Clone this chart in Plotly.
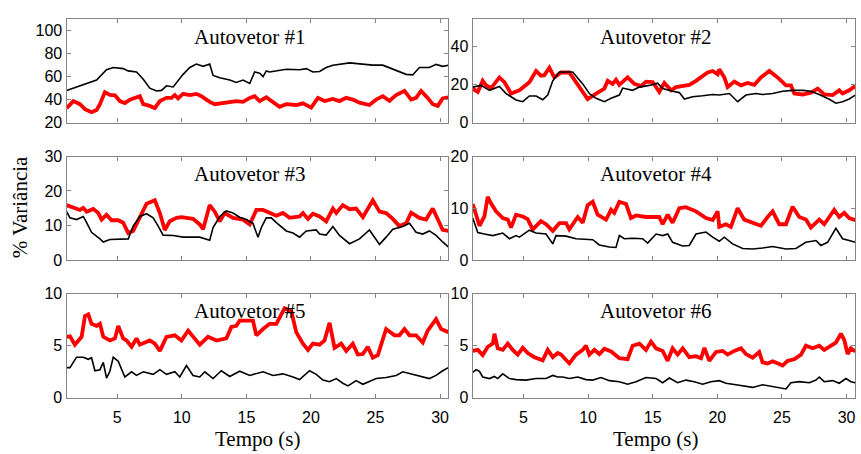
import plotly.graph_objects as go
from plotly.subplots import make_subplots

# ---------------- data ----------------
titles = ["Autovetor #1", "Autovetor #2", "Autovetor #3",
          "Autovetor #4", "Autovetor #5", "Autovetor #6"]

# Autovetor 1
t1_black = [1.08, 1.85, 2.63, 3.4, 4.17, 4.69, 5.46, 5.85, 6.49, 7.0, 7.52, 8.04, 8.43, 8.81, 9.33, 10.1,
            10.62, 11.13, 11.65, 12.16, 12.42, 12.94, 13.71, 14.22, 14.74, 15.26, 15.64, 16.03, 16.29,
            16.54, 16.8, 17.32, 18.09, 19.12, 19.64, 20.15, 20.67, 21.18, 21.7, 22.99, 23.76, 24.79,
            25.56, 26.34, 27.37, 27.88, 28.4, 29.17, 29.69, 30.2, 30.64]
v1_black = [48, 51, 54, 57, 66, 68, 67, 65, 64, 58, 50, 47.5, 48, 52, 51, 62,
            68, 71, 69, 71, 61, 59, 57, 55, 57, 54, 64, 63, 60,
            65, 64, 65, 66.5, 66, 67, 64, 64.5, 68, 70, 72, 71, 70,
            70, 66.5, 62, 61.5, 68, 68, 70.7, 69, 70]
t1_red = [1.08, 1.6, 2.11, 2.5, 3.01, 3.4, 3.66, 4.04, 4.43, 4.82, 5.2, 5.59, 5.98, 6.75, 7.01, 7.52,
          7.91, 8.3, 8.81, 9.2, 9.46, 9.71, 10.1, 10.62, 11.13, 11.52, 11.9, 12.16, 12.55, 12.94,
          13.71, 14.22, 14.74, 15.26, 15.64, 16.03, 16.54, 17.06, 17.57, 18.09, 18.86, 19.38, 20.02,
          20.54, 21.05, 21.7, 22.21, 22.73, 23.24, 23.76, 24.53, 25.05, 25.56, 26.08, 26.6, 27.24,
          27.76, 28.14, 28.53, 29.04, 29.43, 29.82, 30.2, 30.64]
v1_red = [32.5, 38.7, 36, 31.7, 29, 31, 36, 46.5, 44, 43.7, 38.7, 37, 40, 43, 36, 34.5,
          32.5, 38.7, 41.5, 41.5, 44, 41, 45, 44, 45, 43, 40, 38, 36, 36.5,
          37.3, 38.7, 38, 41.5, 43, 38.7, 42, 38, 33.7, 36, 35.3, 36.7, 33,
          41.5, 38.7, 40.6, 38.7, 41.5, 40, 37.3, 35.3, 40, 43, 39, 44, 47.6,
          40, 41.5, 47.6, 41.5, 36, 34.5, 41, 42]

# Autovetor 2
t2_black = [1.08, 1.72, 2.37, 3.14, 3.66, 4.43, 4.95, 5.46, 5.98, 6.49, 6.88, 7.27, 7.78, 8.81, 9.59,
            10.1, 10.62, 11.26, 11.78, 12.42, 12.68, 13.45, 13.97, 14.74, 15.38, 15.77, 16.54, 17.06,
            17.45, 18.09, 18.86, 19.64, 20.15, 20.93, 21.57, 22.21, 22.99, 23.5, 24.28, 25.05, 25.82,
            26.6, 27.24, 27.88, 28.66, 29.17, 29.69, 30.2, 30.67]
v2_black = [18.7, 19.6, 17, 19, 15.3, 11.9, 11, 14, 14, 12, 14.5, 22, 26.7, 26.7, 20.4,
            15.3, 12.8, 11, 12.8, 14.5, 18.2, 17, 18.7, 19.6, 20.8, 17.9, 16.5, 15.8,
            12.4, 13.6, 14.1, 14.8, 14.5, 15.3, 11, 14.5, 15.3, 14.8, 15.3, 16.5, 17,
            17, 16.5, 14.8, 12.3, 10.2, 11, 12.4, 14.5]
t2_red = [1.08, 1.47, 1.85, 2.11, 2.5, 3.14, 3.53, 4.04, 4.69, 5.46, 5.98, 6.36, 6.62, 7.01, 7.39,
          7.91, 8.55, 9.07, 9.59, 9.97, 10.62, 11.26, 11.52, 11.9, 12.16, 12.42, 13.06, 13.58, 14.1,
          14.48, 15.0, 15.51, 15.9, 16.42, 16.8, 17.32, 17.83, 18.35, 18.86, 19.25, 19.64, 20.02,
          20.15, 20.54, 20.8, 21.31, 21.83, 22.34, 22.86, 23.37, 24.02, 24.66, 25.31, 25.69, 25.95,
          26.6, 27.24, 27.76, 28.27, 28.92, 29.43, 29.69, 30.2, 30.67]
v2_red = [17.9, 16.2, 22, 19.6, 18.2, 23.8, 21.3, 15.3, 17, 21.3, 27.2, 24.7, 25, 28.9, 23.8,
          26.4, 26.4, 21.3, 16.2, 12.4, 15.3, 17.9, 22, 20.4, 22.6, 19.9, 23.8, 20.4, 19.2,
          21.6, 21.3, 16.2, 20.9, 17, 18.7, 19.2, 19.9, 22, 24.7, 26.4, 27.2, 25.5,
          28.1, 23.8, 18.7, 21.6, 19.6, 20.9, 19.9, 23.8, 27.2, 23.8, 19.6, 19.6, 15.3,
          14.8, 15.8, 17.9, 14.8, 14.5, 17, 15.3, 17, 19.2]

# Autovetor 3
t3_black = [1.08, 1.34, 1.85, 2.37, 2.63, 3.01, 3.66, 3.92, 4.43, 5.2, 5.85, 6.23, 6.75, 7.27, 7.78,
            8.17, 8.55, 9.33, 10.1, 10.87, 11.39, 12.16, 12.42, 12.94, 13.45, 13.97, 14.48, 15.0,
            15.51, 15.9, 16.16, 16.54, 16.93, 17.32, 18.09, 18.61, 19.12, 19.64, 20.41, 20.67, 21.18,
            21.7, 22.21, 22.99, 23.76, 24.53, 25.31, 25.82, 26.34, 27.11, 27.63, 28.14, 28.66, 29.17,
            29.69, 30.2, 30.64]
v3_black = [14, 12.2, 11.7, 12.6, 10.8, 8, 6.1, 5.2, 5.9, 5.9, 6.1, 9.8, 12.6, 13.4, 12.2,
            9.8, 7.2, 7.1, 6.6, 6.6, 6.6, 5.7, 9.4, 12.6, 14.2, 13.6, 12.4, 11.7,
            10.6, 6.6, 9.4, 12.2, 12.2, 10.8, 8.4, 7.8, 6.6, 8.4, 8.7, 7.5, 7.2,
            9.7, 7.1, 4.7, 6.1, 8.7, 4.5, 6.6, 8.9, 9.7, 10.6, 8, 7.5, 8.4,
            7.1, 5.2, 3.8]
t3_red = [1.08, 1.72, 2.11, 2.37, 2.63, 3.14, 3.53, 3.79, 4.17, 4.56, 5.08, 5.46, 5.85, 6.23, 6.75,
          7.27, 7.91, 8.3, 8.68, 9.07, 9.59, 9.97, 10.36, 10.87, 11.39, 11.65, 12.16, 12.55, 12.94,
          13.32, 13.97, 14.74, 15.26, 15.77, 16.29, 16.8, 17.32, 17.83, 18.35, 19.12, 19.38, 19.77,
          20.15, 20.67, 21.18, 21.7, 21.96, 22.47, 22.99, 23.5, 24.02, 24.79, 25.31, 25.82, 26.34,
          26.85, 27.37, 27.76, 28.4, 28.92, 29.43, 29.95, 30.2, 30.64]
v3_red = [15.9, 15.2, 14.5, 15.1, 14, 14.8, 13.6, 11.7, 13.1, 11.5, 11.5, 10.8, 7.8, 8.4, 12.2,
          16.3, 17.3, 13.6, 8.7, 11.2, 12.2, 12.4, 12.2, 11.9, 10.3, 8.9, 15.9, 14, 11.2,
          13.6, 12.2, 11.7, 10.3, 14.5, 14.5, 13.6, 12.8, 13.6, 12.2, 12.6, 13.6, 11.9,
          13.4, 12.6, 11.2, 14.9, 13.6, 15.9, 14.7, 14.9, 12.4, 17.3, 14, 13.6, 11.9,
          9.8, 10.6, 13.7, 12.2, 11.7, 14.9, 10.8, 8.7, 8.4]

# Autovetor 4
t4_black = [1.08, 1.47, 1.98, 2.63, 3.4, 3.92, 4.43, 4.69, 5.46, 5.98, 6.75, 7.27, 7.52, 8.3, 9.07,
            9.84, 10.36, 10.87, 11.65, 12.16, 12.42, 12.81, 13.45, 14.22, 14.61, 15.26, 15.77, 16.16,
            16.54, 17.32, 17.83, 18.35, 19.12, 19.64, 20.15, 20.54, 21.18, 21.96, 22.73, 23.5, 24.28,
            25.31, 26.08, 26.85, 27.63, 28.01, 28.53, 29.17, 29.69, 30.2, 30.67]
v4_black = [8.1, 5.3, 5, 4.7, 5.2, 4.1, 4.7, 4.4, 5.75, 5.2, 5, 3.1, 4.7, 4.6, 4.1,
            3.9, 3.9, 2.9, 2.5, 2.4, 4.7, 4.1, 4.2, 4.1, 3.25, 5, 4.7, 5,
            3.4, 2.7, 2.8, 5, 5.4, 4.4, 3.6, 4.4, 3.1, 2.2, 2.1, 2.3, 2.6,
            2.1, 2.2, 3.4, 3.75, 2.8, 3.4, 6.1, 4.1, 3.75, 3.4]
t4_red = [1.08, 1.34, 1.6, 1.98, 2.24, 2.5, 2.88, 3.4, 3.79, 4.04, 4.43, 4.95, 5.33, 5.72, 6.36,
          6.75, 7.27, 7.78, 8.3, 8.55, 9.2, 9.59, 9.97, 10.36, 10.74, 11.39, 11.78, 12.03, 12.42,
          12.94, 13.32, 13.71, 14.48, 15.51, 15.77, 16.16, 16.54, 17.06, 17.57, 18.35, 19.12, 19.64,
          20.02, 20.15, 20.67, 21.05, 21.57, 22.08, 22.73, 23.37, 23.89, 24.28, 24.79, 25.31, 25.82,
          26.34, 26.85, 27.24, 27.88, 28.27, 28.66, 29.04, 29.43, 29.82, 30.2, 30.67]
v4_red = [10.8, 8.4, 6.6, 8.4, 12.2, 10.9, 9.4, 8.1, 7.8, 6.25, 8.75, 8.4, 7.9, 5.9, 7.5,
          6.9, 5.6, 7.1, 7.1, 5.9, 8.3, 7.2, 10.6, 11.25, 8.75, 7.8, 9.7, 9.1, 11.25,
          10.8, 8.1, 8.6, 8.3, 8.3, 6.9, 8.75, 7.2, 10, 10.2, 9.4, 8.1, 7.7,
          9.4, 6.4, 6.9, 6.4, 10, 7.8, 7.1, 6.6, 8.3, 9.4, 6.9, 6.9, 10.3,
          8.3, 7.8, 6.25, 7.8, 6.9, 8.3, 9.7, 8.3, 9.1, 8.1, 7.7]

# Autovetor 5
t5_black = [1.08, 1.34, 1.85, 2.37, 2.76, 3.01, 3.27, 3.66, 3.92, 4.17, 4.43, 4.69, 5.08, 5.59, 6.11,
            6.49, 7.01, 7.78, 8.3, 8.81, 9.46, 9.84, 10.36, 10.87, 11.39, 11.78, 12.42, 13.06, 13.71,
            14.48, 15.26, 16.29, 17.06, 17.83, 18.61, 19.12, 19.89, 20.41, 20.93, 21.44, 21.96, 22.47,
            22.86, 23.5, 24.02, 24.53, 25.05, 25.82, 26.6, 27.11, 27.88, 28.66, 29.17, 29.69, 30.2, 30.64]
v5_black = [2.9, 2.9, 3.9, 3.9, 3.7, 3.85, 2.6, 2.7, 3.4, 1.9, 2.55, 3.9, 3.5, 2, 2.5,
            2.15, 2.5, 2.25, 2.7, 2.25, 2.5, 2, 3.1, 2.15, 2, 2.5, 1.85, 2.6, 2.05,
            2.55, 2.15, 2.5, 2.15, 2.3, 2, 1.75, 2.6, 2.25, 1.7, 1.55, 1.85, 1.4,
            1.15, 1.65, 1.3, 1.55, 1.85, 1.95, 2.15, 2.5, 2.25, 2.05, 1.85, 2.15, 2.6, 2.9]
t5_red = [1.08, 1.34, 1.72, 2.24, 2.5, 2.76, 3.01, 3.4, 3.66, 3.92, 4.43, 4.82, 5.08, 5.46, 5.72,
          6.11, 6.49, 6.75, 7.52, 7.91, 8.3, 8.81, 9.46, 9.97, 10.49, 11.0, 11.39, 12.03, 12.68,
          13.45, 13.84, 14.22, 14.48, 15.51, 15.77, 16.29, 16.8, 17.32, 17.96, 18.48, 18.86, 19.38,
          19.77, 20.15, 20.67, 21.05, 21.44, 21.83, 22.34, 22.73, 23.24, 23.63, 24.02, 24.4, 24.79,
          25.18, 25.82, 26.47, 26.85, 27.24, 27.63, 28.14, 28.66, 29.04, 29.69, 30.08, 30.64]
v5_red = [5.85, 5.9, 5.1, 5.85, 7.85, 8, 7.1, 6.9, 7.1, 5.85, 5.5, 5.7, 6.9, 5.7, 5.5,
          4.9, 5.7, 5.1, 5.5, 5.2, 4.5, 5.85, 6, 5.5, 6.45, 5.7, 5.1, 5.85, 5.5,
          5.7, 6.8, 6.9, 7.4, 7.4, 6, 6.6, 7.1, 7.1, 8.6, 8.3, 6.3, 5.2,
          4.6, 5.2, 5.1, 5.5, 7.2, 4.8, 5.2, 4.5, 5.2, 4.15, 4.2, 4.9, 3.85,
          4.1, 6.6, 6, 6, 6.6, 6, 6, 5.3, 6.45, 7.55, 6.6, 6.3]

# Autovetor 6
t6_black = [1.08, 1.34, 1.6, 1.85, 2.37, 2.76, 3.01, 3.4, 3.92, 4.43, 5.2, 5.98, 6.75, 7.27, 7.65,
            8.04, 8.55, 9.2, 9.84, 10.36, 11.0, 11.65, 12.42, 13.06, 13.71, 14.48, 15.26, 15.77,
            16.29, 16.93, 17.57, 18.22, 18.86, 19.51, 20.15, 20.67, 21.44, 22.21, 22.73, 23.5, 24.28,
            24.79, 25.31, 25.69, 26.34, 27.11, 27.63, 27.88, 28.27, 28.92, 29.43, 29.95, 30.33, 30.67]
v6_black = [2.45, 2.7, 2.55, 2, 1.85, 2.05, 1.85, 2.3, 1.85, 1.75, 1.7, 1.85, 1.85, 2.15, 2,
            2, 1.85, 2, 1.75, 1.7, 1.95, 1.65, 1.55, 1.3, 1.55, 1.95, 1.85, 1.45,
            1.9, 1.45, 1.7, 1.55, 1.3, 1.55, 1.65, 1.4, 1.25, 1.1, 1.0, 1.25, 1.1,
            1.0, 0.85, 1.45, 1.55, 1.45, 1.7, 2, 1.55, 1.65, 1.4, 1.85, 1.55, 1.45]
t6_red = [1.08, 1.47, 1.85, 2.24, 2.63, 2.76, 3.01, 3.4, 3.79, 4.17, 4.56, 4.95, 5.33, 5.85, 6.49,
          6.88, 7.27, 7.65, 7.91, 8.3, 8.55, 9.07, 9.59, 9.84, 10.1, 10.49, 10.87, 11.26, 11.78,
          12.42, 13.06, 13.45, 13.97, 14.48, 14.87, 15.26, 15.77, 16.16, 16.54, 16.93, 17.32, 17.83,
          18.35, 18.74, 19.0, 19.38, 19.9, 20.41, 20.8, 21.31, 21.83, 22.21, 22.73, 23.24, 23.5,
          23.89, 24.28, 24.79, 25.05, 25.44, 25.95, 26.47, 26.85, 27.37, 27.88, 28.27, 28.79, 29.17,
          29.56, 29.82, 30.08, 30.33, 30.67]
v6_red = [4.5, 4.6, 4.1, 4.9, 5.2, 6.15, 4.75, 4.6, 5.2, 4.6, 4.15, 4.8, 4.3, 3.9, 3.6,
          4.6, 3.9, 4.3, 4.15, 3.7, 3.3, 4.15, 4.6, 5, 4.15, 4.6, 4.2, 4.7, 4.45,
          3.8, 3.7, 5, 5.2, 4.6, 5.4, 4.75, 4.5, 3.55, 4.75, 4.15, 4.75, 3.9,
          4.0, 3.8, 4.8, 3.55, 4.4, 4.5, 4.15, 4.5, 4.75, 4.2, 3.85, 4.4, 3.4,
          3.3, 3.5, 3.25, 3.1, 3.55, 3.7, 4.15, 5, 4.75, 5, 4.6, 5, 5.3,
          6.15, 5.55, 4.2, 4.75, 4.45]

black_t = [t1_black, t2_black, t3_black, t4_black, t5_black, t6_black]
black_v = [v1_black, v2_black, v3_black, v4_black, v5_black, v6_black]
red_t = [t1_red, t2_red, t3_red, t4_red, t5_red, t6_red]
red_v = [v1_red, v2_red, v3_red, v4_red, v5_red, v6_red]

y_ranges = [[20, 110], [0, 54.5], [0, 30], [0, 20], [0, 10], [0, 10]]
y_ticks = [[20, 40, 60, 80, 100], [0, 20, 40], [0, 10, 20, 30], [0, 10, 20], [0, 5, 10], [0, 5, 10]]
x_ticks = [5, 10, 15, 20, 25, 30]
x_range = [1.08, 30.65]

# ---------------- figure ----------------
W, H = 861, 454
fig = make_subplots(rows=3, cols=2)

col_px = [(66.7, 449.0), (473.3, 856.0)]
row_px = [(11.7, 119.0), (154.3, 261.7), (296.7, 405.0)]

AX_COLOR = "#858585"
TICK_FONT = dict(family="Liberation Sans, Arial, sans-serif", size=16, color="black")
SERIF = "Liberation Serif, Times New Roman, serif"

for i in range(6):
    r, c = i // 2, i % 2
    fig.add_trace(go.Scatter(x=red_t[i], y=red_v[i], mode="lines",
                             line=dict(color="#ff0000", width=3.8), showlegend=False),
                  row=r + 1, col=c + 1)
    fig.add_trace(go.Scatter(x=black_t[i], y=black_v[i], mode="lines",
                             line=dict(color="black", width=1.6), showlegend=False),
                  row=r + 1, col=c + 1)
    x0, x1 = col_px[c]
    y0, y1 = row_px[r]
    fig.update_xaxes(domain=[x0 / W, x1 / W], range=x_range, tickvals=x_ticks,
                     showticklabels=(r == 2), ticks="inside", ticklen=4, tickcolor=AX_COLOR,
                     ticklabelstandoff=5,
                     showline=True, linecolor=AX_COLOR, linewidth=1.3, mirror="ticks",
                     showgrid=False, zeroline=False, tickfont=TICK_FONT,
                     row=r + 1, col=c + 1)
    fig.update_yaxes(domain=[1 - y1 / H, 1 - y0 / H], range=y_ranges[i], tickvals=y_ticks[i],
                     ticks="inside", ticklen=4, tickcolor=AX_COLOR,
                     showline=True, linecolor=AX_COLOR, linewidth=1.3, mirror="ticks",
                     showgrid=False, zeroline=False, tickfont=TICK_FONT,
                     row=r + 1, col=c + 1)
    xa = "x" if i == 0 else f"x{i+1}"
    ya = "y" if i == 0 else f"y{i+1}"
    fig.add_annotation(text=titles[i], xref=f"{xa} domain", yref=f"{ya} domain",
                       x=0.479, y=1 - 18.3 / (y1 - y0), xanchor="center", yanchor="middle",
                       showarrow=False, font=dict(family=SERIF, size=21, color="black"))

# shared axis labels
fig.add_annotation(text="Tempo (s)", xref="paper", yref="paper",
                   x=(66.7 + 449) / 2 / W, y=1 - 447.5 / H, xanchor="center", yanchor="middle",
                   showarrow=False, font=dict(family=SERIF, size=21, color="black"))
fig.add_annotation(text="Tempo (s)", xref="paper", yref="paper",
                   x=(473.3 + 856) / 2 / W - 8 / W, y=1 - 447.5 / H, xanchor="center", yanchor="middle",
                   showarrow=False, font=dict(family=SERIF, size=21, color="black"))
fig.add_annotation(text="% Variância", xref="paper", yref="paper",
                   x=20 / W, y=1 - 207 / H, xanchor="center", yanchor="middle", textangle=-90,
                   showarrow=False, font=dict(family=SERIF, size=21, color="black"))

fig.update_layout(width=W, height=H, margin=dict(l=0, r=0, t=0, b=0),
                  paper_bgcolor="white", plot_bgcolor="white", showlegend=False)

fig.write_html("out.html")
